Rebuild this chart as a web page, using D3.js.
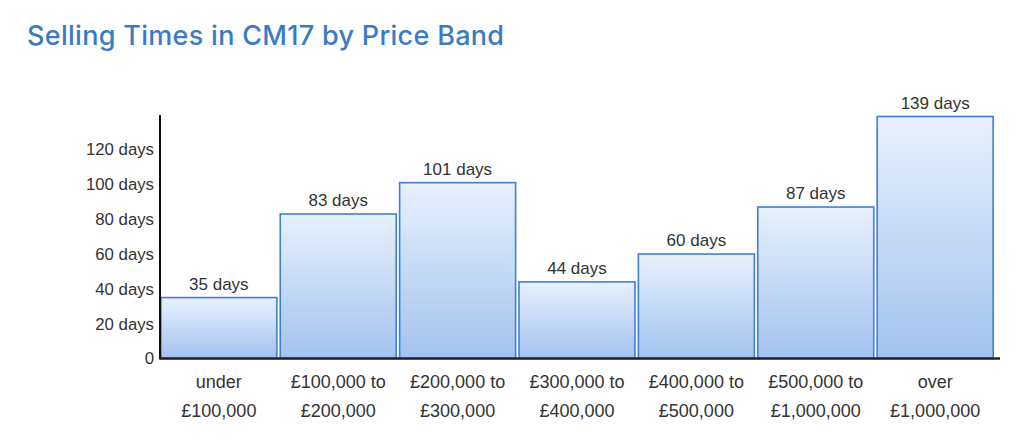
<!DOCTYPE html>
<html>
<head>
<meta charset="utf-8">
<script src="https://cdn.jsdelivr.net/npm/d3@7"></script>
<style>
html,body{margin:0;padding:0;background:#fff;}
svg{display:block;}
</style>
</head>
<body>
<svg id="chart" width="1024" height="445"></svg>
<script>
const categories = [
  ["under", "£100,000"],
  ["£100,000 to", "£200,000"],
  ["£200,000 to", "£300,000"],
  ["£300,000 to", "£400,000"],
  ["£400,000 to", "£500,000"],
  ["£500,000 to", "£1,000,000"],
  ["over", "£1,000,000"]
];
const values = [35, 83, 101, 44, 60, 87, 139];
const yTicks = [0, 20, 40, 60, 80, 100, 120];
const title = "Selling Times in CM17 by Price Band";

(function () {
const svg = d3.select("#chart");
const left = 160, right = 994, base = 358.5, plotTop = 116.5;

const x = d3.scaleBand().domain(d3.range(values.length)).range([left, right]).paddingInner(0.02).paddingOuter(0.003);
const y = d3.scaleLinear().domain([0, 139]).range([base, plotTop]);

const defs = svg.append("defs");
const grad = defs.append("linearGradient").attr("id", "barGrad").attr("x1", 0).attr("y1", 0).attr("x2", 0).attr("y2", 1);
grad.append("stop").attr("offset", "0%").attr("stop-color", "#e8f1fc");
grad.append("stop").attr("offset", "100%").attr("stop-color", "#a2c2ef");

svg.append("text")
  .attr("x", 27).attr("y", 45)
  .attr("font-family", "Inter, 'Open Sans', sans-serif")
  .attr("font-weight", 500)
  .attr("font-size", 27)
  .attr("letter-spacing", 0.3)
  .attr("fill", "#3a7bc4")
  .text(title);

const font = "'Liberation Sans', Arial, sans-serif";

// bars
svg.selectAll("rect.bar").data(values).join("rect")
  .attr("class", "bar")
  .attr("x", (d, i) => x(i) + 0.5)
  .attr("y", d => y(d))
  .attr("width", x.bandwidth() - 1)
  .attr("height", d => base - y(d))
  .attr("fill", "url(#barGrad)")
  .attr("stroke", "#3f7fd6")
  .attr("stroke-width", 1.6);

// value labels
svg.selectAll("text.val").data(values).join("text")
  .attr("class", "val")
  .attr("x", (d, i) => x(i) + x.bandwidth() / 2)
  .attr("y", d => y(d) - 8)
  .attr("text-anchor", "middle")
  .attr("font-family", font)
  .attr("font-size", 17)
  .attr("fill", "#333")
  .text(d => d + " days");

// y axis
const yAxis = d3.axisLeft(y).tickValues(yTicks).tickSize(0).tickPadding(6)
  .tickFormat(d => d === 0 ? "0" : d + " days");
const gy = svg.append("g").attr("transform", `translate(${left},0)`).call(yAxis);
gy.select(".domain").remove();
gy.selectAll("text").attr("font-family", font).attr("font-size", 16.8).attr("fill", "#333");

svg.append("line").attr("x1", left).attr("x2", left).attr("y1", 115).attr("y2", base + 1)
  .attr("stroke", "#111").attr("stroke-width", 2);

// x baseline
svg.append("line").attr("x1", left).attr("x2", 1000).attr("y1", base).attr("y2", base)
  .attr("stroke", "#1a2433").attr("stroke-width", 2.5);

// x labels
const xl = svg.selectAll("text.xl").data(categories).join("text")
  .attr("class", "xl")
  .attr("x", (d, i) => x(i) + x.bandwidth() / 2)
  .attr("text-anchor", "middle")
  .attr("font-family", font)
  .attr("font-size", 18)
  .attr("fill", "#333");
xl.append("tspan").attr("x", (d, i) => x(i) + x.bandwidth() / 2).attr("y", 388).text(d => d[0]);
xl.append("tspan").attr("x", (d, i) => x(i) + x.bandwidth() / 2).attr("y", 417).text(d => d[1]);
})();
</script>
</body>
</html>
